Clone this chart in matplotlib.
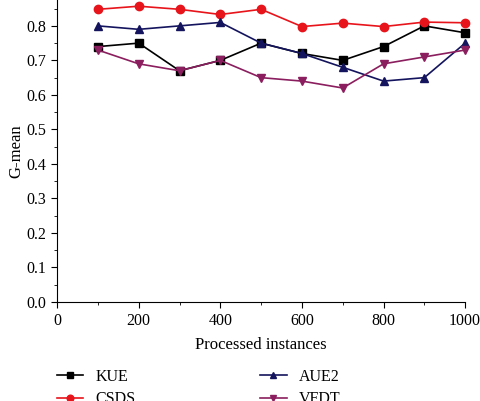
import matplotlib.pyplot as plt
import matplotlib.ticker as ticker

plt.rcParams['font.family'] = ['Liberation Serif', 'DejaVu Serif']
plt.rcParams['font.size'] = 11

instancias = [100, 200, 300, 400, 500, 600, 700, 800, 900, 1000]
kue = [0.74, 0.75, 0.67, 0.70, 0.75, 0.72, 0.70, 0.74, 0.80, 0.78]
csds = [0.848, 0.857, 0.848, 0.833, 0.848, 0.798, 0.808, 0.798, 0.811, 0.809]
aue2 = [0.80, 0.79, 0.80, 0.81, 0.75, 0.72, 0.68, 0.64, 0.65, 0.75]
vfdt = [0.73, 0.69, 0.67, 0.70, 0.65, 0.64, 0.62, 0.69, 0.71, 0.73]

fig = plt.figure(figsize=(4.8, 4.01), dpi=100)
ax = fig.add_axes([0.119, 0.247, 0.85, 0.753])

# Séries (cor, marcador)
series = [
    ('KUE', kue, '#000000', 's'),
    ('CSDS', csds, '#e8141b', 'o'),
    ('AUE2', aue2, '#14145e', '^'),
    ('VFDT', vfdt, '#8b1e5e', 'v'),
]
for nome, valores, cor, marcador in series:
    ax.plot(instancias, valores, color=cor, marker=marcador, markersize=6,
            linewidth=1.2, label=nome, clip_on=False)

ax.set_xlim(0, 1000)
ax.set_ylim(0, 0.875)
ax.xaxis.set_major_locator(ticker.MultipleLocator(200))
ax.xaxis.set_minor_locator(ticker.MultipleLocator(100))
ax.yaxis.set_major_locator(ticker.MultipleLocator(0.1))
ax.yaxis.set_minor_locator(ticker.MultipleLocator(0.05))
ax.yaxis.set_major_formatter(ticker.FormatStrFormatter('%.1f'))

for lado in ['top', 'right']:
    ax.spines[lado].set_visible(False)
ax.tick_params(which='major', length=4, direction='out', labelsize=11.5, pad=4)
ax.tick_params(which='minor', length=2.5, direction='out')

ax.set_xlabel('Processed instances', fontsize=12, labelpad=6)
ax.set_ylabel('G-mean', fontsize=12, labelpad=1)

ax.legend(loc='upper left', bbox_to_anchor=(0.0, -0.222), ncol=2, frameon=False,
          fontsize=11.5, columnspacing=7.8, handlelength=1.65, handletextpad=0.75,
          labelspacing=0.4, markerscale=0.8, borderaxespad=0, borderpad=0)

plt.savefig('out.png', dpi=100)
